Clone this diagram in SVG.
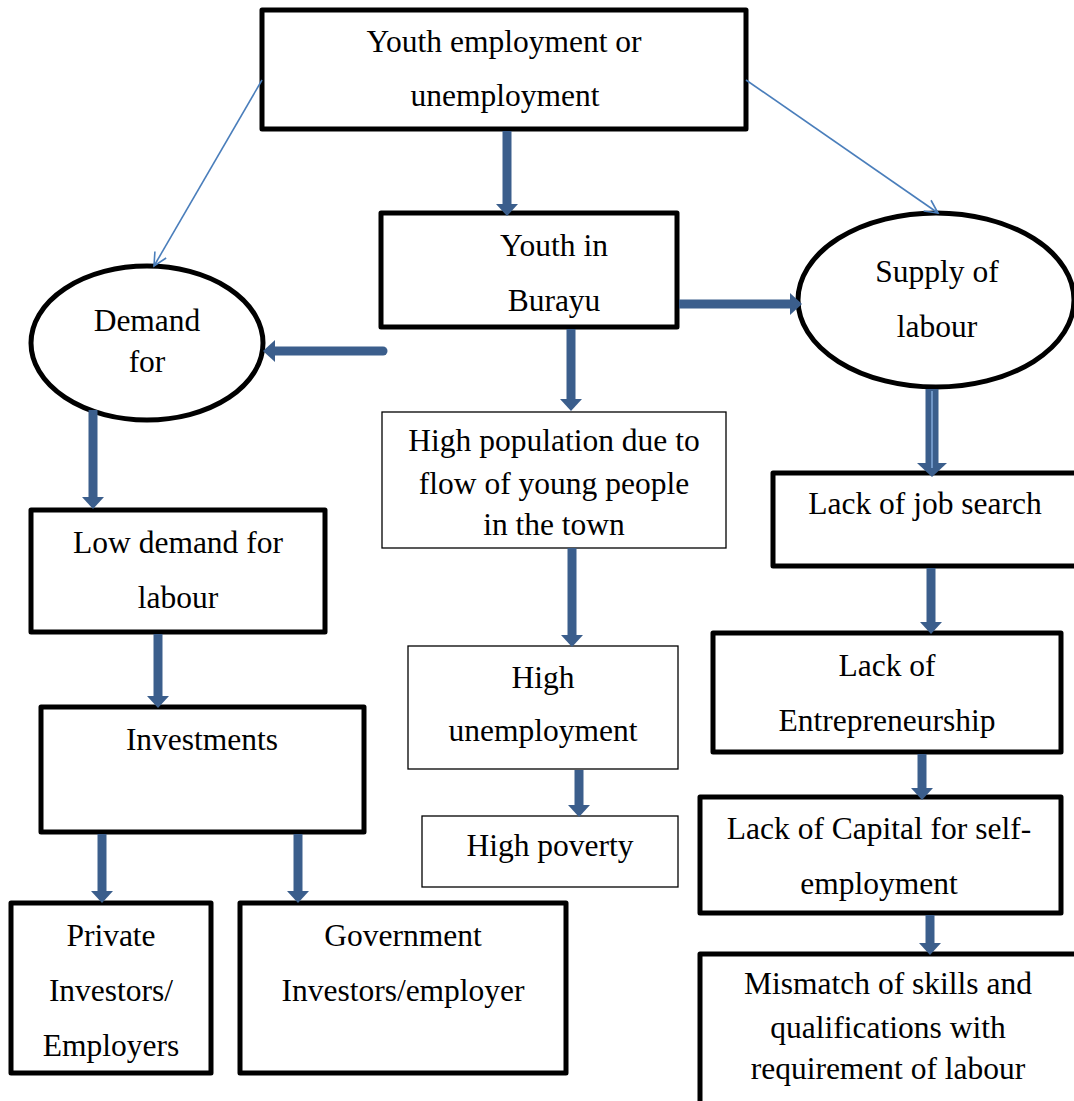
<svg xmlns="http://www.w3.org/2000/svg" width="1074" height="1101" viewBox="0 0 1074 1101">
<style>
.t{font-family:"Liberation Serif","Times New Roman",serif;font-size:31.5px;text-anchor:middle;fill:#000}
.bx{fill:#fff;stroke:#000;stroke-width:5;stroke-linejoin:round}
.bt{fill:#fff;stroke:#000;stroke-width:1.3}
.el{fill:#fff;stroke:#000;stroke-width:5}
.ta{stroke:#3B5E8C;stroke-width:9;fill:none;marker-end:url(#head)}
.tn{stroke:#4A7EBB;stroke-width:1.6;fill:none;marker-end:url(#open)}
</style>
<defs>
<marker id="head" viewBox="0 -11 12 22" refX="2" refY="0" markerWidth="12" markerHeight="22" markerUnits="userSpaceOnUse" orient="auto"><path d="M0,-11 L12,0 L0,11 z" fill="#3B5E8C"/></marker>
<marker id="bighead" viewBox="0 -15 14 30" refX="2" refY="0" markerWidth="14" markerHeight="30" markerUnits="userSpaceOnUse" orient="auto"><path d="M0,-15 L14,0 L0,15 z" fill="#3B5E8C"/></marker>
<marker id="open" viewBox="-14 -8 16 16" refX="0" refY="0" markerWidth="16" markerHeight="16" markerUnits="userSpaceOnUse" orient="auto"><path d="M-13,-6.5 L0,0 L-13,6.5" fill="none" stroke="#4A7EBB" stroke-width="1.6"/></marker>
</defs>
<rect width="1074" height="1101" fill="#fff"/>

<g id="n-top"><rect class="bx" x="262" y="10" width="484" height="119"/><text class="t" x="504" y="52">Youth employment or</text><text class="t" x="505" y="106">unemployment</text></g>
<g id="n-burayu"><rect class="bx" x="381" y="213" width="296" height="114"/><text class="t" x="554" y="256">Youth in</text><text class="t" x="554" y="311">Burayu</text></g>
<g id="n-supply"><ellipse class="el" cx="936" cy="300" rx="138" ry="87"/><text class="t" x="937" y="282">Supply of</text><text class="t" x="937" y="337">labour</text></g>
<g id="n-demand"><ellipse class="el" cx="147" cy="343" rx="116" ry="77"/><text class="t" x="147" y="331">Demand</text><text class="t" x="147" y="372">for</text></g>
<g id="n-highpop"><rect class="bt" x="382" y="412" width="344" height="136"/><text class="t" x="554" y="451">High population due to</text><text class="t" x="554" y="494">flow of young people</text><text class="t" x="554" y="535">in the town</text></g>
<g id="n-highunemp"><rect class="bt" x="408" y="646" width="270" height="123"/><text class="t" x="543" y="688">High</text><text class="t" x="543" y="741">unemployment</text></g>
<g id="n-highpov"><rect class="bt" x="422" y="816" width="256" height="71"/><text class="t" x="550" y="856">High poverty</text></g>
<g id="n-lowdemand"><rect class="bx" x="31" y="510" width="294" height="122"/><text class="t" x="178" y="553">Low demand for</text><text class="t" x="178" y="608">labour</text></g>
<g id="n-invest"><rect class="bx" x="41" y="707" width="323" height="125"/><text class="t" x="202" y="750">Investments</text></g>
<g id="n-private"><rect class="bx" x="11" y="903" width="200" height="170"/><text class="t" x="111" y="946">Private</text><text class="t" x="111" y="1001">Investors/</text><text class="t" x="111" y="1056">Employers</text></g>
<g id="n-gov"><rect class="bx" x="240" y="903" width="326" height="170"/><text class="t" x="403" y="946">Government</text><text class="t" x="403" y="1001">Investors/employer</text></g>
<g id="n-jobsearch"><rect class="bx" x="773" y="473" width="310" height="93"/><text class="t" x="925" y="514">Lack of job search</text></g>
<g id="n-entre"><rect class="bx" x="713" y="633" width="348" height="119"/><text class="t" x="887" y="676">Lack of</text><text class="t" x="887" y="731">Entrepreneurship</text></g>
<g id="n-capital"><rect class="bx" x="700" y="797" width="361" height="116"/><text class="t" x="879" y="839">Lack of Capital for self-</text><text class="t" x="879" y="894">employment</text></g>
<g id="n-mismatch"><rect class="bx" x="700" y="954" width="390" height="160"/><text class="t" x="888" y="994">Mismatch of skills and</text><text class="t" x="888" y="1038">qualifications with</text><text class="t" x="888" y="1079">requirement of labour</text></g>

<g id="connectors">
<line class="tn" x1="262" y1="80" x2="154" y2="266"/>
<line class="tn" x1="746" y1="80" x2="938" y2="213"/>
<line class="ta" x1="507" y1="131" x2="507" y2="206"/>
<line class="ta" x1="679" y1="304" x2="792" y2="304"/>
<line class="ta" x1="383" y1="351" x2="273" y2="351" stroke-linecap="round"/>
<line class="ta" x1="571" y1="329" x2="571" y2="401"/>
<line class="ta" x1="93" y1="410" x2="93" y2="499"/>
<line class="ta" x1="572" y1="548" x2="572" y2="637"/>
<line class="ta" x1="579" y1="770" x2="579" y2="807"/>
<line class="ta" x1="158" y1="634" x2="158" y2="698"/>
<line class="ta" x1="102" y1="834" x2="102" y2="893"/>
<line class="ta" x1="298" y1="834" x2="298" y2="893"/>
<line x1="932" y1="389" x2="932" y2="465" stroke="#3B5E8C" stroke-width="13" marker-end="url(#bighead)"/>
<line x1="932" y1="391" x2="932" y2="468" stroke="#6F95C6" stroke-width="2"/>
<line class="ta" x1="931" y1="568" x2="931" y2="624"/>
<line class="ta" x1="922" y1="754" x2="922" y2="790"/>
<line class="ta" x1="930" y1="915" x2="930" y2="945"/>
</g>
</svg>
